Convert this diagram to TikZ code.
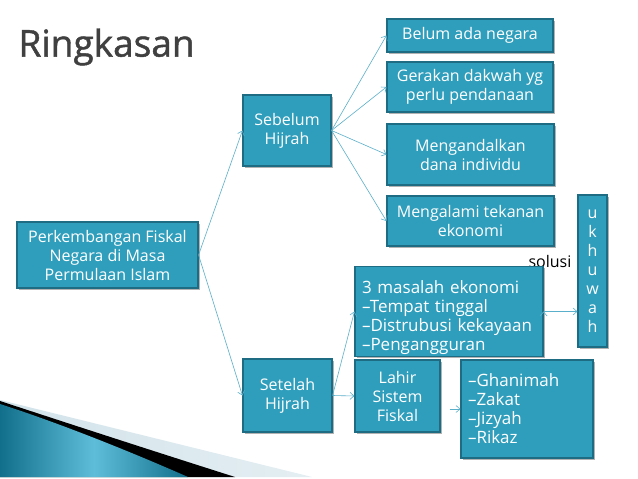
\documentclass[tikz,border=0pt]{standalone}
\usepackage{fontspec}
\setmainfont{Open Sans}
\newfontfamily\titlefont[FakeBold=1.2]{Open Sans}
\usetikzlibrary{arrows.meta, positioning, shadows}
\definecolor{boxfill}{HTML}{2F9EBC}
\definecolor{boxline}{HTML}{1E6C83}
\definecolor{linkcol}{HTML}{5AAFCA}
\definecolor{titlecol}{HTML}{404040}
\definecolor{swdark}{HTML}{126F8B}
\definecolor{swlight}{HTML}{5EBEDA}
\definecolor{swpale}{HTML}{D2E3EA}

\begin{document}
\begin{tikzpicture}[x=1pt,y=-1pt,>={Straight Barb[length=4pt,width=7pt]},
        box/.style={draw=boxline,fill=boxfill,line width=1.1pt,text=white,align=center,
            font=\fontsize{16}{19}\selectfont,inner sep=2pt,
            drop shadow={shadow xshift=1.5pt,shadow yshift=-1.5pt,opacity=.3,fill=black}},
        listbox/.style={box,align=left,inner xsep=7pt,font=\fontsize{17}{19}\selectfont},
        link/.style={->,draw=linkcol,line width=.6pt}]

      % page and swoosh
      \fill[white] (0,0) rectangle (638,479);
      \useasboundingbox (0,0) rectangle (638,479);
      \shade[left color=swpale,right color=swpale!60] (0,400) -- (312,477) -- (0,477) -- cycle;
      \fill[black] (0,401) .. controls (70,424) and (150,450) .. (235,477) -- (0,477) -- cycle;
      \shade[left color=swdark,right color=swdark,middle color=swlight]
            (0,404) .. controls (50,420) and (120,447) .. (188,477) -- (0,477) -- cycle;

      \node[anchor=west,text=titlecol,font=\titlefont\fontsize{37}{40}\selectfont] (title) at (15,47) {Ringkasan};

      \node[box,minimum width=181,minimum height=66] (awal) at (107.5,255)
            {Perkembangan Fiskal\\Negara di Masa\\Permulaan Islam};
      \node[box,minimum width=88,minimum height=71]  (sebelum) at (287,130.5) {Sebelum\\Hijrah};
      \node[box,minimum width=89,minimum height=73]  (setelah) at (287.5,395.5) {Setelah\\Hijrah};

      \node[box,minimum width=166,minimum height=33] (belum)   at (470,35.5) {Belum ada negara};
      \node[box,minimum width=166,minimum height=50] (gerakan) at (470,87) {Gerakan dakwah yg\\perlu pendanaan};
      \node[box,minimum width=167,minimum height=61] (dana)    at (470.5,154.5) {Mengandalkan\\dana individu};
      \node[box,minimum width=167,minimum height=50] (tekanan) at (470.5,221) {Mengalami tekanan\\ekonomi};

      \node[box,minimum width=29,minimum height=152] (ukhuwah) at (592.5,271) {u\\k\\h\\u\\w\\a\\h};
      \node[font=\fontsize{16}{19}\selectfont] (solusi) at (550,261) {solusi};

      \node[listbox,text width=174,minimum height=83] (masalah) at (449,311.5)
            {\rule{0pt}{25pt}3 masalah ekonomi\\–Tempat tinggal\\–Distrubusi kekayaan\\–Pengangguran};
      \node[box,minimum width=85,minimum height=72]  (lahir) at (397.5,396) {Lahir\\Sistem\\Fiskal};
      \node[listbox,text width=118,minimum height=98] (sumber) at (527,409)
            {–Ghanimah\\–Zakat\\–Jizyah\\–Rikaz};

      \path[link] (awal.east) edge (sebelum.west)
                              edge (setelah.west)
                  (sebelum.east) edge (belum.west)
                                 edge (gerakan.west)
                                 edge (dana.west)
                                 edge (tekanan.west)
                  (setelah.east) edge (masalah.west)
                                 edge (lahir.west)
                  (lahir.east |- sumber.west) edge[shorten <=9pt] (sumber.west)
                  (masalah.east) edge (ukhuwah.west |- masalah.east);
    \end{tikzpicture}
\end{document}
